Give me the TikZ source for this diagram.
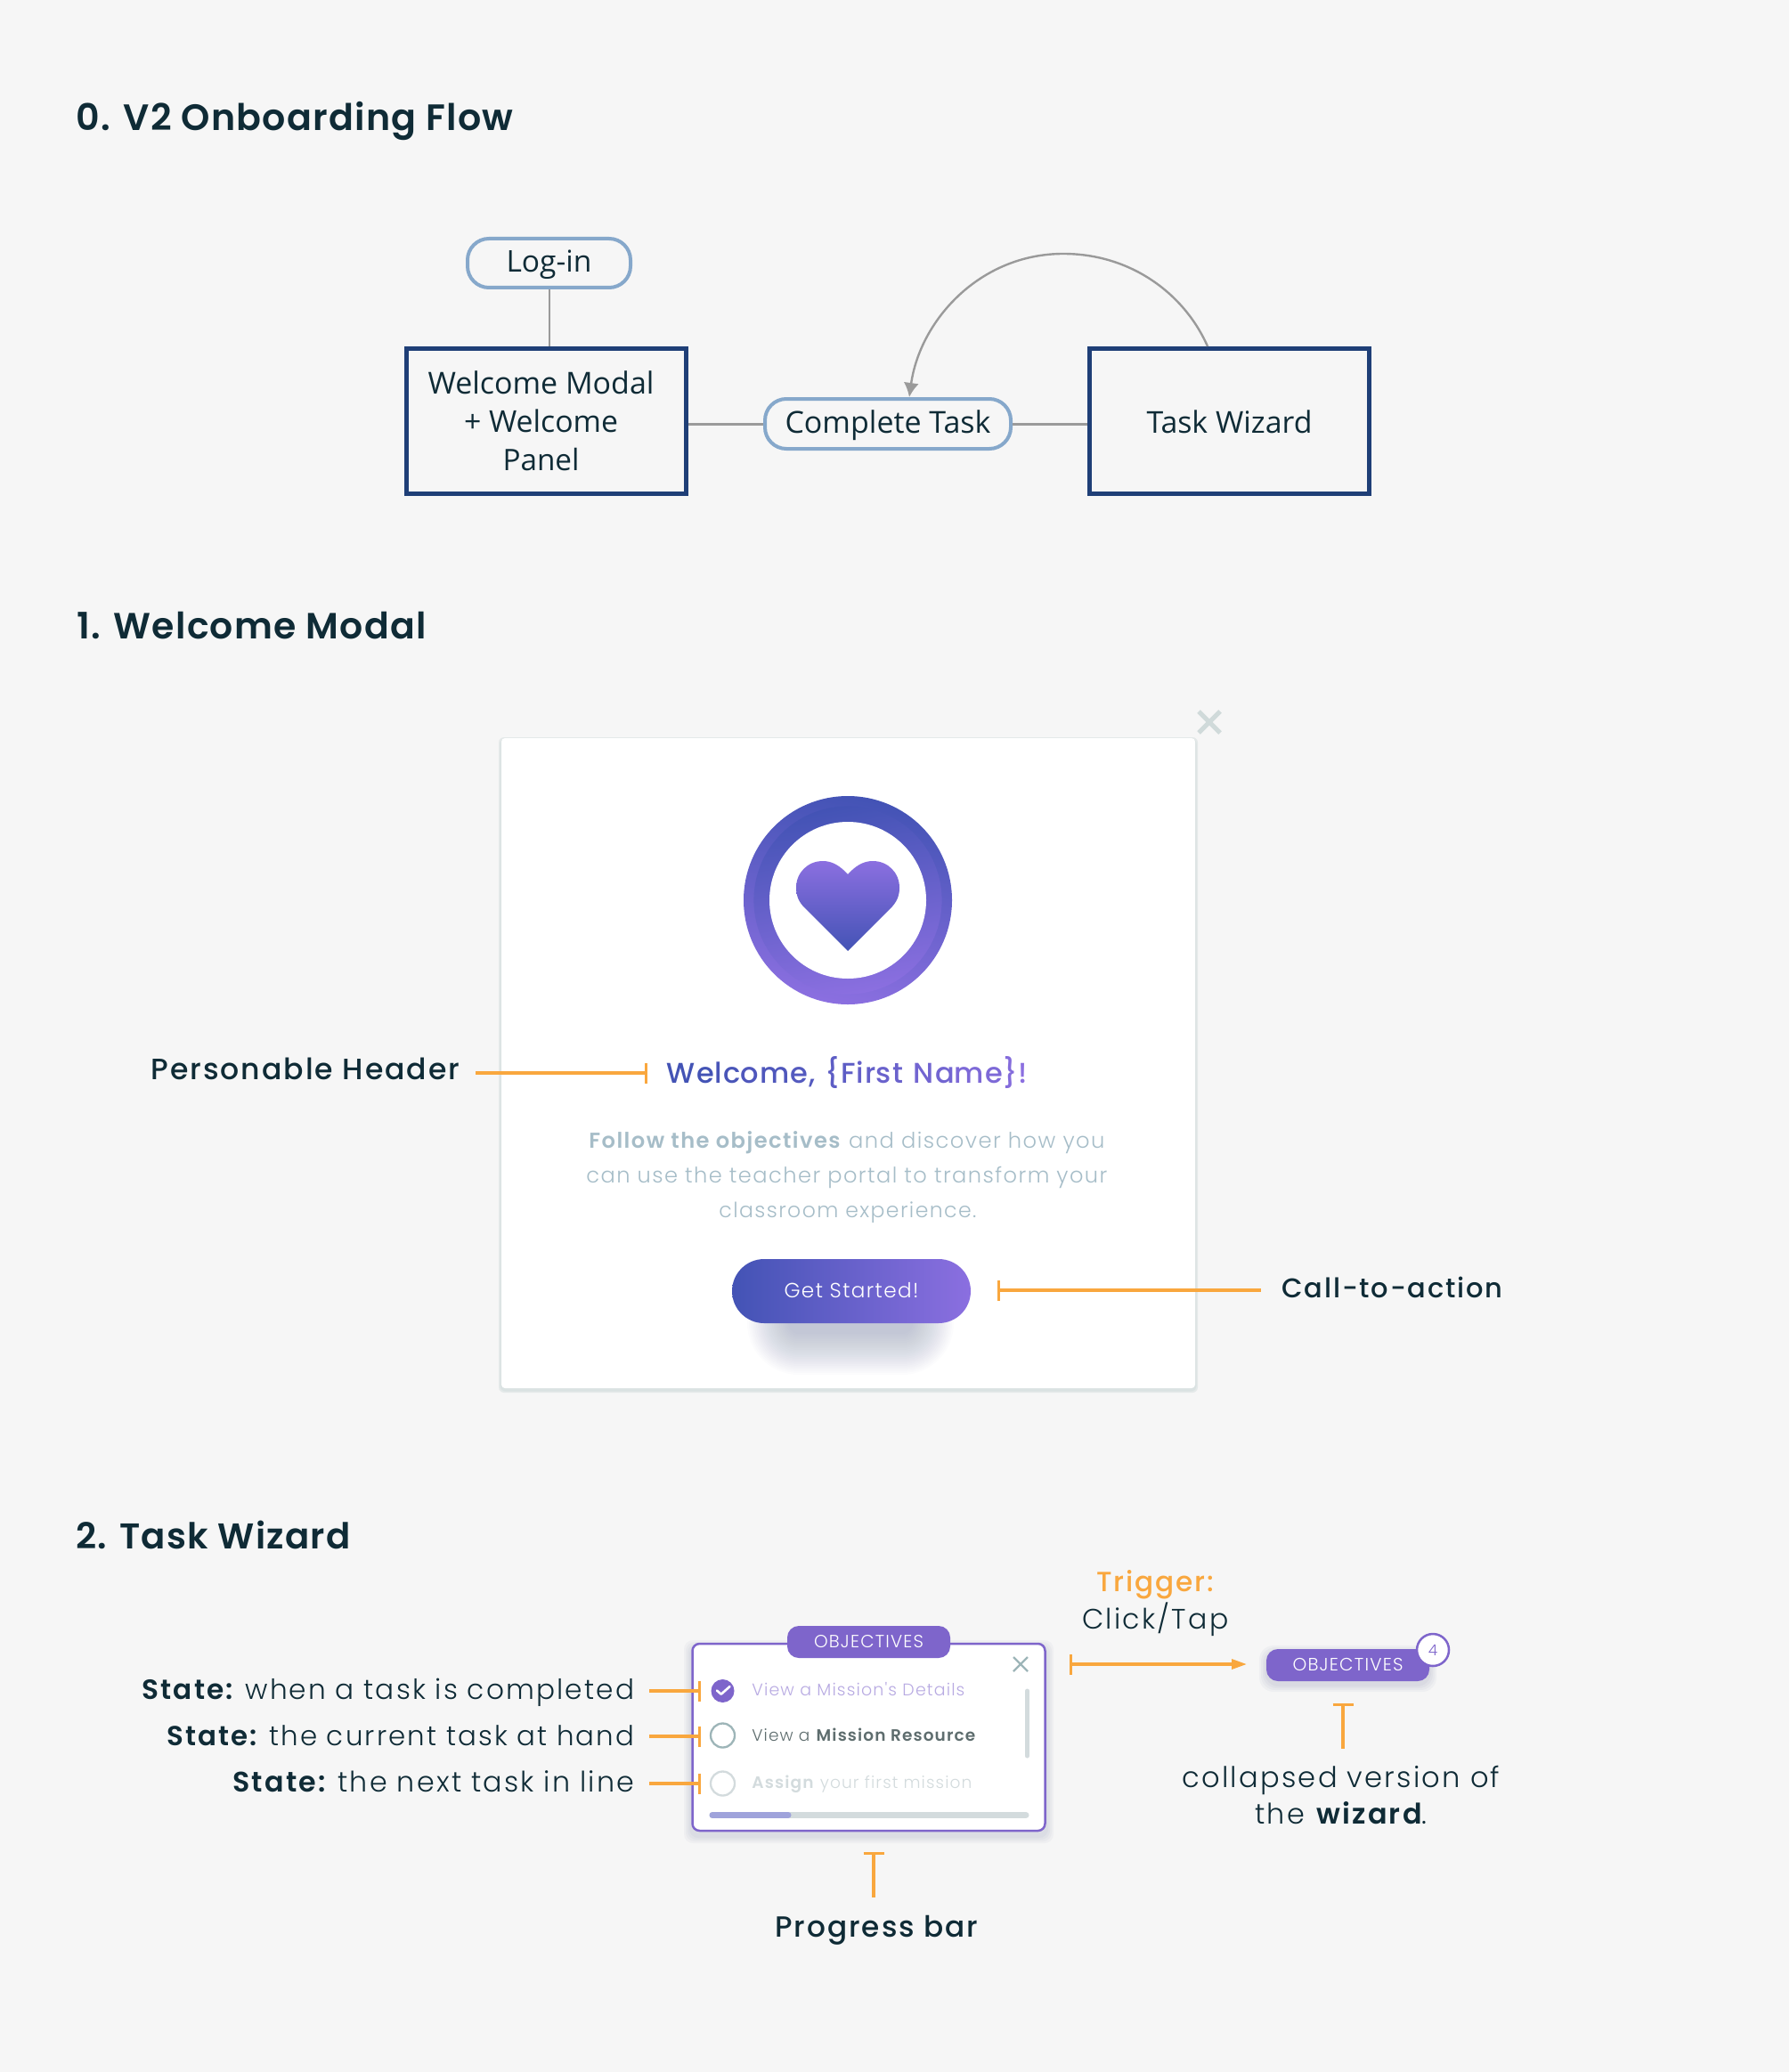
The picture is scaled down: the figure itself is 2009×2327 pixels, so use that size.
\documentclass[tikz,border=0pt]{standalone}
\usepackage{fontspec}
\usetikzlibrary{arrows.meta,calc}
\setmainfont{Open Sans}
\newfontfamily\flowf{Open Sans}
\newfontfamily\headf{Poppins SemiBold}[LetterSpace=3]
\newfontfamily\lblf{Poppins Light}[LetterSpace=7,BoldFont={Poppins SemiBold},BoldFeatures={LetterSpace=7}]
\newfontfamily\medf{Poppins Medium}[LetterSpace=6]
\newfontfamily\uif{Poppins Light}[LetterSpace=6,BoldFont={Poppins SemiBold},BoldFeatures={LetterSpace=6}]
\definecolor{bg}{HTML}{F6F6F6}
\definecolor{ink}{HTML}{0F2B36}
\definecolor{navy}{HTML}{1F3F77}
\definecolor{pillblue}{HTML}{86A8CB}
\definecolor{conn}{HTML}{9A9A9A}
\definecolor{orangeln}{HTML}{F9A73E}
\definecolor{gA}{HTML}{4353B5}
\definecolor{gB}{HTML}{8B6FE0}
\definecolor{tabp}{HTML}{7E65CB}
\definecolor{bodyc}{HTML}{A6BDC8}
\definecolor{xgrey}{HTML}{D0DADA}
\definecolor{tealg}{HTML}{9DB5B8}
\definecolor{paleg}{HTML}{D3DBDD}
\definecolor{progfill}{HTML}{9FA3DB}
\newcommand{\fw}[2]{\resizebox{\dimexpr#1pt/2\relax}{!}{#2}}
\newcommand{\gc}[2]{\textcolor{gB!#1!gA}{#2}}
\tikzset{
  flowbox/.style={draw=navy,line width=2.5pt,fill=bg,minimum width=157pt,minimum height=81.5pt,inner sep=0pt,align=center,font=\flowf\fontsize{15.5}{21.5}\selectfont,text=ink},
  pill/.style={draw=pillblue,line width=2pt,fill=bg,rounded corners=12pt,inner sep=0pt,font=\flowf\fontsize{15.5}{21.5}\selectfont,text=ink,text height=14.5pt,text depth=4pt},
  conline/.style={draw=conn,line width=1.2pt},
  heading/.style={anchor=base west,inner sep=0pt,text=ink,font=\headf\fontsize{19}{23}\selectfont},
  label/.style={anchor=base west,inner sep=0pt,text=ink,font=\lblf\fontsize{15}{18}\selectfont},
  mlabel/.style={anchor=base west,inner sep=0pt,text=ink,font=\medf\fontsize{14}{18}\selectfont},
  callout/.style={draw=orangeln,line width=1.6pt},
  tickend/.style={callout,{Bar[width=11.5pt,line width=1.6pt]}-},
  uitext/.style={anchor=base west,inner sep=0pt,font=\uif\fontsize{9.5}{12}\selectfont},
  tabnode/.style={fill=tabp,rounded corners=6.5pt,minimum width=91.5pt,minimum height=18pt,inner sep=0pt,text=white,font=\uif\fontsize{8.5}{10}\selectfont,text height=6pt,text depth=0pt},
  radio/.style={circle,fill=white,line width=1.15pt,minimum size=13.5pt,inner sep=0pt},
}
\begin{document}
\begin{tikzpicture}[x=0.5pt,y=-0.5pt]
\useasboundingbox (0,0) rectangle (2009,2327);
\fill[bg] (0,0) rectangle (2009,2327);

% ---------- headings
\node[heading] (h0) at (85,147) {\fw{491}{0. V2 Onboarding Flow}};
\node[heading] (h1) at (86,717) {\fw{392}{1. Welcome Modal}};
\node[heading] (h2) at (85,1739) {\fw{308}{2. Task Wizard}};

% ---------- flow
\node[pill,minimum width=91.5pt,minimum height=27.5pt] (login) at (616.5,295.5) {\fw{96}{Log-in}};
\node[flowbox] (wm) at (613.5,473) {\fw{254}{Welcome Modal}\kern 6pt\\\fw{173}{+ Welcome}\kern 6pt\\\fw{86}{Panel}\kern 6pt};
\node[pill,minimum width=138pt,minimum height=28pt] (complete) at (997,476) {\fw{231}{Complete Task}};
\node[flowbox,text height=14.5pt,text depth=1pt] (wizard) at (1380.5,473) {\fw{186}{Task Wizard}};
\draw[conline] (617,325) -- (617,389);
\draw[conline,line width=1.5pt] (wm.east |- complete) -- (complete.west);
\draw[conline,line width=1.5pt] (complete.east) -- (wizard.west |- complete);
\coordinate (arcstart) at (1356,389);
\coordinate (arcend) at (1021,446);
\draw[conline,-{Latex[length=8pt,width=8.5pt]}] (arcstart) .. controls (1330,330) and (1270,285) .. (1194,285) .. controls (1100,285) and (1033,360) .. (arcend);

% ---------- modal
\foreach \e in {3,1.5}{
  \fill[xgrey,fill opacity=0.45,rounded corners=3pt] ($(563,829)+(-\e,-\e+2)$) rectangle ($(1342,1559)+(\e,\e+2)$);
}
\node[fill=white,rounded corners=2pt,minimum width=389.5pt,minimum height=365pt,inner sep=0pt] (modal) at (952.5,1194) {};
\draw[xgrey,line width=2.5pt] (1346,799) -- (1370,823) (1370,799) -- (1346,823);
\node[circle,inner sep=0pt,minimum size=117pt,top color=gA,bottom color=gB,shading angle=-10] (ringout) at (952,1011) {};
\node[circle,inner sep=0pt,minimum size=105.6pt,left color=gA,right color=gB,shading angle=10] (ringin) at (952,1011) {};
\node[circle,inner sep=0pt,minimum size=88pt,fill=white] (ringw) at (952,1011) {};
\path[shade,top color=gB,bottom color=gA] (952,1068) -- (902,1018) .. controls (896,1011) and (894,1005) .. (894,997) .. controls (894,980) and (907,967) .. (924,967) .. controls (935,967) and (944,973) .. (952,982) .. controls (960,973) and (969,967) .. (980,967) .. controls (997,967) and (1010,980) .. (1010,997) .. controls (1010,1005) and (1008,1011) .. (1002,1018) -- cycle;
\node[inner sep=0pt,font=\medf\fontsize{17}{20}\selectfont,anchor=base west] (welcome) at (748,1216) {\fw{405}{\gc{0}{We}\gc{8}{lc}\gc{16}{om}\gc{24}{e,} \gc{36}{\{F}\gc{46}{ir}\gc{54}{st} \gc{66}{Na}\gc{80}{me}\gc{90}{\}}\gc{100}{!}}};
\node[uitext,font=\uif\fontsize{11.5}{14}\selectfont,text=bodyc] (body1) at (661,1289) {\fw{579}{\textbf{Follow the objectives} and discover how you}};
\node[uitext,font=\uif\fontsize{11.5}{14}\selectfont,text=bodyc] (body2) at (658,1328) {\fw{585}{can use the teacher portal to transform your}};
\node[uitext,font=\uif\fontsize{11.5}{14}\selectfont,text=bodyc] (body3) at (807,1367) {\fw{289}{classroom experience.}};
\foreach \e in {46,44,...,0}{
  \pgfmathsetmacro\rr{(\e+12)*0.5}
  \fill[gA!75!black,fill opacity=0.0125,rounded corners=\rr pt] ($(885,1474)+(-\e,-\e)$) rectangle ($(1025,1498)+(\e,\e)$);
}
\node[left color=gA,right color=gB,rounded corners=18pt,minimum width=134pt,minimum height=36pt,inner sep=0pt,text=white,font=\uif\fontsize{12}{14}\selectfont,text height=7.5pt,text depth=0pt] (cta) at (956,1450) {\fw{151}{Get Started!}};

\node[mlabel] (lpers) at (169,1212) {\fw{347}{Personable Header}};
\coordinate (pt) at (727,1205); \coordinate (pe) at (534,1205);
\draw[tickend] (pt) -- (pe);
\node[mlabel] (lcta) at (1439,1457) {\fw{248}{Call-to-action}};
\coordinate (ct) at (1120,1449); \coordinate (ce) at (1416,1449);
\draw[tickend] (ct) -- (ce);

% ---------- wizard panel
\foreach \e in {8,6,4,2}{
  \fill[gA!60!black,fill opacity=0.03,rounded corners=5pt] ($(776,1845)+(-\e,-\e+5)$) rectangle ($(1175,2057)+(\e,\e+5)$);
}
\node[draw=tabp,line width=1.25pt,fill=white,rounded corners=4pt,minimum width=198pt,minimum height=105pt,inner sep=0pt] (panel) at (975.5,1951) {};
\node[tabnode] (tab) at (975.5,1844) {\fw{123}{OBJECTIVES}};
\draw[tealg,line width=1.2pt] (1138,1861) -- (1154,1877) (1154,1861) -- (1138,1877);
\draw[paleg,line width=2.5pt,line cap=round] (1153.5,1899) -- (1153.5,1972);
\node[radio,fill=tabp,minimum size=13pt] (r1) at (811.5,1899) {};
\draw[white,line width=1.3pt,line cap=round,line join=round] (805,1898.5) -- (809.8,1902.7) -- (819.5,1894);
\node[radio,draw=tealg] (r2) at (811.5,1949) {};
\node[radio,draw=paleg] (r3) at (811.5,2003) {};
\node[uitext,text=tabp!55!white] (t1) at (844,1904) {\fw{239}{View a Mission's Details}};
\node[uitext,text=black!25!tealg!80!black] (t2) at (844,1955) {\fw{252}{View a \textbf{Mission Resource}}};
\node[uitext,text=paleg] (t3) at (844,2008) {\fw{247}{\textbf{Assign} your first mission}};
\draw[paleg,line width=3.5pt,line cap=round] (800,2038.5) -- (1152,2038.5);
\draw[progfill,line width=3.5pt,line cap=round] (800,2038.5) -- (885,2038.5);

\node[label] (s1) at (159,1908) {\fw{553}{\textbf{State:}\kern-1.5pt{} when a task is completed}};
\node[label] (s2) at (187,1960) {\fw{525}{\textbf{State:}\kern-1.5pt{} the current task at hand}};
\node[label] (s3) at (261,2012) {\fw{451}{\textbf{State:}\kern-1.5pt{} the next task in line}};
\coordinate (k1) at (787,1899); \coordinate (e1) at (729,1899);
\coordinate (k2) at (787,1950); \coordinate (e2) at (729,1950);
\coordinate (k3) at (787,2003); \coordinate (e3) at (729,2003);
\draw[tickend] (k1) -- (e1);
\draw[tickend] (k2) -- (e2);
\draw[tickend] (k3) -- (e3);
\coordinate (pbt) at (981,2080); \coordinate (pbe) at (981,2131);
\draw[tickend] (pbt) -- (pbe);
\node[mlabel] (lprog) at (870,2175) {\fw{228}{Progress bar}};

% ---------- trigger and collapsed tab
\node[anchor=base west,inner sep=0pt,text=orangeln,font=\medf\fontsize{16}{20}\selectfont] (trig) at (1231,1787) {\fw{132}{Trigger:}};
\node[label,font=\lblf\fontsize{16}{20}\selectfont] (click) at (1215,1829) {\fw{164}{Click/Tap}};
\foreach \e in {8,6,4,2}{
  \fill[gA!60!black,fill opacity=0.035,rounded corners=8pt] ($(1422,1852)+(-\e,-\e+4)$) rectangle ($(1605,1888)+(\e,\e+4)$);
}
\node[tabnode] (tabsmall) at (1513.5,1870) {\fw{124}{OBJECTIVES}};
\coordinate (tr) at (1201,1869); \coordinate (trend) at (1400,1869);
\draw[callout,{Bar[width=11.5pt,line width=1.6pt]}-{Triangle[length=8.5pt,width=5.5pt]}] (tr) -- (trend);
\node[circle,draw=tabp,line width=1.25pt,fill=white,minimum size=18pt,inner sep=0pt,text=tabp,font=\uif\fontsize{8.5}{10}\selectfont] (badge) at (1609,1853) {4};
\coordinate (ct1) at (1508,1913); \coordinate (ct2) at (1508,1964);
\draw[tickend] (ct1) -- (ct2);
\node[label] (cv1) at (1327,2007) {\fw{357}{collapsed version of}};
\node[label] (cv2) at (1409,2048) {\fw{193}{the \textbf{wizard}.}};
\end{tikzpicture}
\end{document}
